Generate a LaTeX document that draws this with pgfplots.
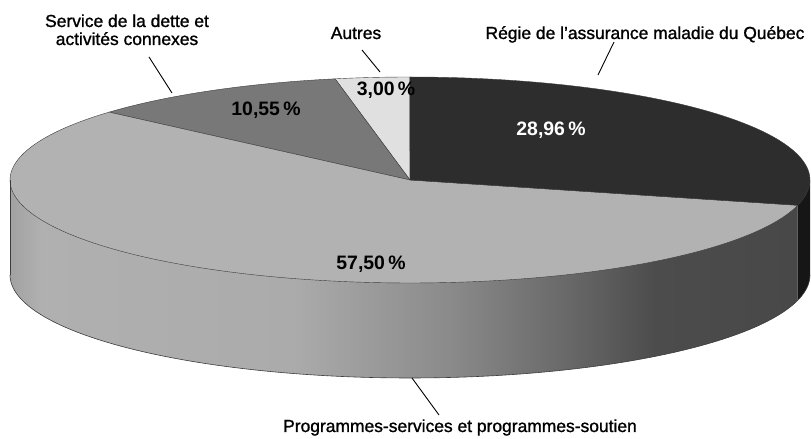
\documentclass[border=0pt]{standalone}
\usepackage{pgfplots}
\pgfplotsset{compat=1.18}
\usepackage{fontspec}
\setmainfont{Liberation Sans}
\newfontface\labelfont{Liberation Sans}[FakeBold=1.2]
\definecolor{regie}{HTML}{2D2D2D}
\definecolor{regieside}{HTML}{161616}
\definecolor{prog}{HTML}{B2B2B2}
\definecolor{serv}{HTML}{787878}
\definecolor{autres}{HTML}{E0E0E0}
\definecolor{edge}{HTML}{3C3C3C}
\definecolor{s0}{HTML}{A2A2A2}
\definecolor{s1}{HTML}{B0B0B0}
\definecolor{s2}{HTML}{ABABAB}
\definecolor{s3}{HTML}{8A8A8A}
\definecolor{s4}{HTML}{6A6A6A}
\definecolor{s5}{HTML}{4C4C4C}
\definecolor{s6}{HTML}{484848}
\pgfdeclarehorizontalshading{sideshade}{100bp}{color(0bp)=(s0); color(25bp)=(s0); color(27bp)=(s1); color(43bp)=(s2); color(53bp)=(s3); color(60bp)=(s4); color(66bp)=(s5); color(75bp)=(s6); color(100bp)=(s6)}
% shares (percent)
\def\pAutres{3.00}
\def\pServ{10.55}
\def\pProg{57.50}
\def\pRegie{28.96}
\begin{document}
\begin{tikzpicture}
\pgfmathsetmacro\aA{90}
\pgfmathsetmacro\aB{\aA+3.6*\pAutres}
\pgfmathsetmacro\aC{\aB+3.6*\pServ}
\pgfmathsetmacro\aD{\aC+3.6*\pProg}
\pgfmathsetmacro\aE{\aD+3.6*\pRegie}
\pgfmathsetmacro\xD{410+400*cos(\aD)}
\pgfmathsetmacro\yD{259+103*sin(\aD)}
\begin{axis}[x=1bp, y=1bp, xmin=0, xmax=811, ymin=0, ymax=439,
  hide axis, clip=false, scale only axis]
\addplot[draw=none, forget plot] coordinates {(0,0) (811,439)};
% side of the pie
\addplot[shade, shading=sideshade, draw=none, domain=180:\aD, samples=120]
  ({410+400*cos(x)}, {164+103*sin(x)}) -- (\xD,\yD) -- (10,259) -- cycle;
\addplot[fill=regieside, draw=none, domain=\aD:360, samples=20]
  ({410+400*cos(x)}, {164+103*sin(x)}) -- (810,259) -- (\xD,\yD) -- cycle;
% top faces
\addplot[fill=autres, draw=edge, line width=0.4bp, domain=\aA:\aB, samples=10]
  ({410+400*cos(x)}, {259+103*sin(x)}) -- (410,259) -- cycle;
\addplot[fill=serv, draw=edge, line width=0.4bp, domain=\aB:\aC, samples=30]
  ({410+400*cos(x)}, {259+103*sin(x)}) -- (410,259) -- cycle;
\addplot[fill=prog, draw=edge, line width=0.4bp, domain=\aC:\aD, samples=150]
  ({410+400*cos(x)}, {259+103*sin(x)}) -- (410,259) -- cycle;
\addplot[fill=regie, draw=edge, line width=0.4bp, domain=\aD:\aE, samples=80]
  ({410+400*cos(x)}, {259+103*sin(x)}) -- (410,259) -- cycle;
% outline of the side
\addplot[draw=edge, line width=0.6bp, domain=180:360, samples=150]
  ({410+400*cos(x)}, {164+103*sin(x)});
\addplot[draw=edge, line width=0.6bp] coordinates {(10,259) (10,164)};
% value labels
\node[anchor=base, font=\bfseries\fontsize{19.5}{20}\selectfont, text=white] at (551,303) {28,96\,\%};
\node[anchor=base, font=\bfseries\fontsize{19.5}{20}\selectfont] at (266,323) {10,55\,\%};
\node[anchor=base, font=\bfseries\fontsize{19.5}{20}\selectfont] at (386,343) {3,00\,\%};
\node[anchor=base, font=\bfseries\fontsize{19.5}{20}\selectfont] at (371,169) {57,50\,\%};
% category labels
\node[anchor=base, font=\labelfont\fontsize{17.5}{18}\selectfont] at (127,412) {Service de la dette et};
\node[anchor=base, font=\labelfont\fontsize{17.5}{18}\selectfont] at (127,394) {activités connexes};
\node[anchor=base, font=\labelfont\fontsize{17.5}{18}\selectfont] at (356,400) {Autres};
\node[anchor=base, font=\labelfont\fontsize{17.5}{18}\selectfont] at (645,400) {Régie de l’assurance maladie du Québec};
\node[anchor=base, font=\labelfont\fontsize{17.5}{18}\selectfont] at (460,7) {Programmes-services et programmes-soutien};
% leader lines
\draw[black, line width=0.9bp] (149,382) -- (172,346);
\draw[black, line width=0.9bp] (362,389) -- (380,367);
\draw[black, line width=0.9bp] (614,397) -- (598,364);
\draw[black, line width=0.9bp] (412,61) -- (439,24);
\end{axis}
\end{tikzpicture}
\end{document}
